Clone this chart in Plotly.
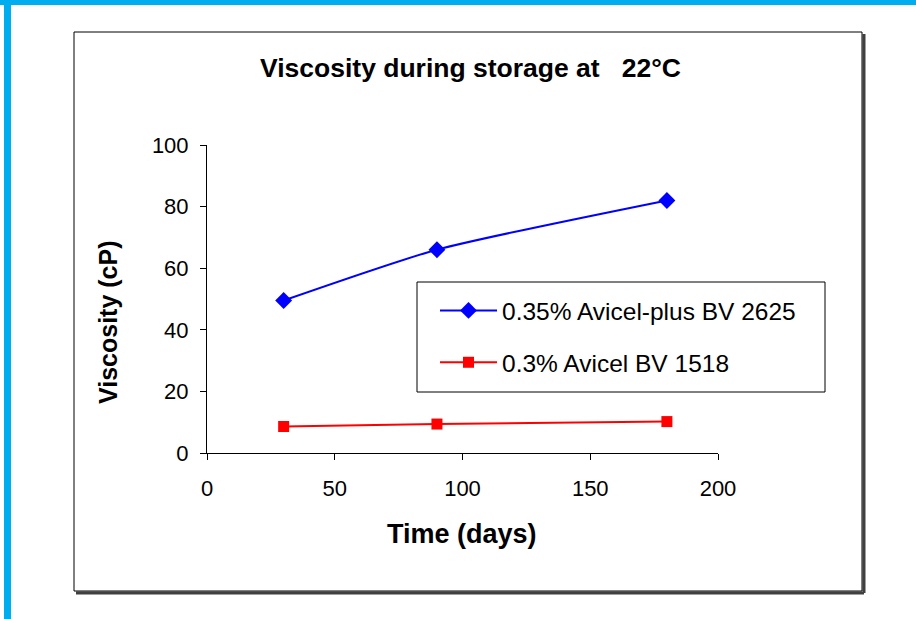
import plotly.graph_objects as go

days = [30, 90, 180]
avicel_plus = [49.5, 66, 82]
avicel = [8.6, 9.4, 10.2]
series_names = ["0.35% Avicel-plus BV 2625", "0.3% Avicel BV 1518"]
x_ticks = [0, 50, 100, 150, 200]
y_ticks = [0, 20, 40, 60, 80, 100]

W, H = 916, 619
L, R, T, B = 207, 718, 145, 453  # plot area pixel bounds


def px(x):
    return (x - L) / (R - L)


def py(y):
    return (B - y) / (B - T)


FONT = "Liberation Sans, Arial, sans-serif"

fig = go.Figure()
fig.add_trace(go.Scatter(
    x=days, y=avicel_plus, name=series_names[0], mode="lines+markers",
    line=dict(color="#0000FF", width=2, shape="spline", smoothing=0.6),
    marker=dict(symbol="diamond", size=13, color="#0000FF"),
    legendgroup="a",
))
fig.add_trace(go.Scatter(
    x=days, y=avicel, name=series_names[1], mode="lines+markers",
    line=dict(color="#FF0000", width=2, shape="spline", smoothing=0.6),
    marker=dict(symbol="square", size=11, color="#FF0000"),
    legendgroup="b",
))

shapes = [
    # cyan frame
    dict(type="rect", xref="paper", yref="paper", x0=px(0), x1=px(W), y0=py(0), y1=py(5),
         fillcolor="#00AEEF", line=dict(width=0), layer="above"),
    dict(type="rect", xref="paper", yref="paper", x0=px(4), x1=px(11), y0=py(0), y1=py(H),
         fillcolor="#00AEEF", line=dict(width=0), layer="above"),
    # chart box shadow
    dict(type="line", xref="paper", yref="paper", x0=px(76), x1=px(864), y0=py(593), y1=py(593),
         line=dict(color="#404040", width=3)),
    dict(type="line", xref="paper", yref="paper", x0=px(864), x1=px(864), y0=py(34), y1=py(593),
         line=dict(color="#404040", width=3)),
    # chart box
    dict(type="rect", xref="paper", yref="paper", x0=px(74), x1=px(862), y0=py(32), y1=py(591),
         line=dict(color="black", width=1)),
    # legend box
    dict(type="rect", xref="paper", yref="paper", x0=px(417), x1=px(825), y0=py(282), y1=py(392),
         fillcolor="white", line=dict(color="black", width=1), layer="below"),
]

annotations = [
    dict(text="<b>Viscosity during storage at \u00a0\u00a022\u00b0C</b>", xref="paper", yref="paper",
         x=px(470), y=py(68), showarrow=False, font=dict(size=26.5, color="black", family=FONT),
         xanchor="center", yanchor="middle"),
    dict(text="<b>Time (days)</b>", xref="paper", yref="paper",
         x=px(462), y=py(534), showarrow=False, font=dict(size=27, color="black", family=FONT),
         xanchor="center", yanchor="middle"),
    dict(text="<b>Viscosity (cP)</b>", xref="paper", yref="paper",
         x=px(108), y=py(322), showarrow=False, textangle=-90,
         font=dict(size=25, color="black", family=FONT),
         xanchor="center", yanchor="middle"),
]

fig.update_layout(
    width=W, height=H,
    margin=dict(l=L, r=W - R, t=T, b=H - B, pad=0),
    paper_bgcolor="white", plot_bgcolor="white",
    font=dict(family=FONT, color="black", size=22),
    showlegend=True,
    legend=dict(
        x=px(435), y=py(288), xanchor="left", yanchor="top",
        borderwidth=0, bgcolor="rgba(0,0,0,0)",
        font=dict(size=24.5, family=FONT, color="black"),
        itemwidth=57, tracegroupgap=17,
    ),
    shapes=shapes,
    annotations=annotations,
    xaxis=dict(range=[0, 200], tickvals=x_ticks, showgrid=False, zeroline=False,
               showline=True, linecolor="black", linewidth=1,
               ticks="outside", ticklen=6, tickcolor="black",
               ticklabelstandoff=10, tickfont=dict(size=22)),
    yaxis=dict(range=[0, 100], tickvals=y_ticks, showgrid=False, zeroline=False,
               showline=True, linecolor="black", linewidth=1,
               ticks="outside", ticklen=6, tickcolor="black",
               ticklabelstandoff=7, tickfont=dict(size=22)),
)

fig.write_html(
    "out.html",
    config={"displayModeBar": False},
    post_script="document.body.style.margin='0';document.body.style.overflow='hidden';",
)
